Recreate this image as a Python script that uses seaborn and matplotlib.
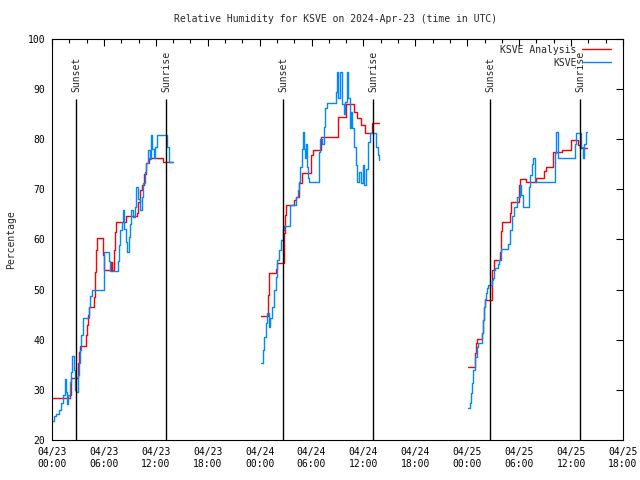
import pandas as pd
import matplotlib
matplotlib.use("Agg")
import matplotlib.pyplot as plt
import matplotlib.dates as mdates
from matplotlib.lines import Line2D
import seaborn as sns

# hours after 2024-04-23 00:00 UTC
red1_h = [0.0, 2.05, 2.15, 2.25, 3.0, 3.05, 3.15, 3.25, 3.95, 4.05, 4.15, 4.25, 4.8, 4.9, 5.0, 5.1,
          5.2, 5.95, 6.05, 6.8, 6.95, 7.15, 7.3, 7.4, 8.6, 9.8, 9.9, 10.15, 10.45, 10.6, 10.9, 11.2,
          12.85, 13.95]
red1_v = [28.3, 29.0, 31.3, 32.3, 33.3, 35.3, 37.6, 38.8, 40.9, 42.9, 44.9, 46.6, 47.9, 48.6, 53.6, 57.9,
          60.2, 56.9, 53.9, 55.6, 53.9, 58.0, 61.5, 63.5, 64.7, 65.3, 67.5, 69.9, 70.9, 73.0, 75.3, 76.3,
          75.5, 75.5]

blue1_h = [0.0, 0.2, 0.45, 0.8, 1.05, 1.3, 1.45, 1.6, 1.75, 1.9, 2.05, 2.2, 2.35, 2.5, 2.65, 2.8,
           2.95, 3.1, 3.25, 3.4, 3.55, 4.3, 4.45, 4.6, 6.0, 6.55, 6.75, 7.6, 7.75, 7.9, 8.05, 8.2,
           8.35, 8.5, 8.7, 8.85, 9.0, 9.15, 9.35, 9.65, 9.75, 9.95, 10.15, 10.4, 10.55, 10.75, 10.9,
           11.1, 11.3, 11.45, 11.6, 11.75, 11.95, 12.1, 13.35, 13.5, 13.95]
blue1_v = [23.8, 24.8, 25.2, 26.0, 27.4, 29.0, 32.2, 29.5, 27.2, 29.0, 31.5, 33.5, 36.8, 34.0, 30.0, 29.6,
           33.0, 35.3, 38.0, 41.0, 44.3, 46.6, 48.7, 50.0, 57.6, 55.8, 53.8, 55.8, 59.0, 61.8, 63.5, 65.8,
           62.0, 59.5, 57.6, 60.5, 63.0, 65.8, 64.5, 66.5, 70.5, 68.0, 65.9, 68.5, 71.3, 73.5, 75.3,
           77.9, 76.0, 80.9, 78.0, 76.3, 78.5, 80.9, 78.5, 75.5, 75.5]

red2_h = [24.15, 24.95, 25.1, 25.85, 26.05, 26.85, 26.95, 27.1, 27.95, 28.2, 28.5, 28.9, 29.95, 30.15,
          31.1, 33.1, 34.0, 34.9, 35.2, 35.75, 36.2, 37.0, 37.8]
red2_v = [44.7, 48.9, 53.3, 54.2, 55.3, 61.2, 64.9, 66.9, 67.9, 68.5, 71.2, 73.2, 76.9, 77.9,
          80.5, 84.5, 87.0, 85.5, 84.3, 82.8, 81.2, 83.2, 83.2]

blue2_h = [24.15, 24.35, 24.55, 24.75, 24.9, 25.05, 25.25, 25.45, 25.65, 25.85, 26.05, 26.25, 26.45,
           26.65, 26.85, 27.5, 28.2, 28.4, 28.55, 28.7, 28.85, 29.0, 29.15, 29.25, 29.35, 29.45, 29.55,
           29.7, 30.85, 31.0, 31.2, 31.4, 31.6, 31.75, 32.8, 32.95, 33.1, 33.3, 33.5, 33.7, 33.9, 34.05,
           34.25, 34.4, 34.55, 34.7, 34.9, 35.1, 35.3, 35.5, 35.7, 35.9, 36.05, 36.3, 36.5, 36.7, 37.35,
           37.5, 37.65, 37.8]
blue2_v = [35.3, 38.0, 40.6, 43.3, 45.3, 42.6, 44.3, 46.6, 49.9, 52.6, 55.9, 57.9, 59.9,
           61.9, 62.7, 66.9, 68.5, 69.9, 71.5, 74.5, 78.0, 81.5, 78.0, 76.3, 79.0, 74.5, 72.3,
           71.5, 77.5, 80.0, 79.0, 82.5, 86.2, 87.2, 89.5, 93.5, 88.2, 93.5, 87.0, 85.0, 87.5, 93.5,
           88.2, 82.2, 85.5, 82.2, 78.5, 74.9, 71.5, 73.5, 71.2, 74.9, 70.8, 74.0, 79.5, 81.2, 81.2,
           78.5, 76.9, 75.9]

red3_h = [48.1, 48.85, 48.95, 49.05, 49.15, 49.75, 49.85, 49.95, 50.05, 50.9, 51.05, 51.75, 51.95,
          52.05, 52.9, 53.05, 53.95, 54.15, 54.8, 56.0, 56.9, 57.15, 57.95, 58.9, 59.95, 60.8, 61.05,
          61.8]
red3_v = [34.5, 35.3, 37.3, 39.3, 40.1, 41.3, 43.9, 46.6, 48.0, 53.9, 55.9, 57.6, 61.6,
          63.4, 65.2, 67.4, 70.9, 72.0, 71.5, 72.2, 73.7, 74.5, 77.5, 77.9, 79.9, 78.9, 78.2,
          78.2]

blue3_h = [48.1, 48.3, 48.45, 48.55, 48.65, 48.85, 48.95, 49.1, 49.25, 49.75, 49.85, 49.95, 50.05,
           50.15, 50.3, 50.45, 50.9, 51.0, 51.1, 51.2, 51.55, 51.7, 51.85, 52.75, 52.95, 53.2, 53.4,
           53.75, 54.05, 54.2, 54.4, 55.1, 55.3, 55.5, 55.65, 55.8, 58.1, 58.3, 58.5, 60.45, 60.6,
           61.2, 61.35, 61.5, 61.7, 61.8]
blue3_v = [26.3, 27.3, 29.3, 31.3, 34.0, 35.3, 36.6, 38.6, 39.3, 41.3, 44.0, 46.6, 48.2,
           49.3, 50.3, 51.0, 51.9, 52.3, 53.9, 54.3, 55.2, 55.9, 58.1, 59.2, 61.9, 64.6, 66.5,
           68.5, 70.9, 68.9, 66.5, 70.5, 72.9, 75.0, 76.2, 71.5, 77.2, 81.5, 76.2, 79.0, 81.2,
           78.5, 76.2, 79.0, 81.5, 81.5]

sun_h = [2.77, 13.21, 26.73, 37.15, 50.66, 61.03]
sun_labels = ["Sunset", "Sunrise", "Sunset", "Sunrise", "Sunset", "Sunrise"]

start = pd.Timestamp("2024-04-23 00:00")

rows = []
for name, day, hs, vs in [("KSVE Analysis", 1, red1_h, red1_v), ("KSVE", 1, blue1_h, blue1_v),
                          ("KSVE Analysis", 2, red2_h, red2_v), ("KSVE", 2, blue2_h, blue2_v),
                          ("KSVE Analysis", 3, red3_h, red3_v), ("KSVE", 3, blue3_h, blue3_v)]:
    for h, v in zip(hs, vs):
        rows.append({"series": name, "day": day, "hour": h, "value": v})
df = pd.DataFrame(rows)
df["time"] = start + pd.to_timedelta(df["hour"], unit="h")

sns.set_style("white")
plt.rcParams["font.family"] = ["DejaVu Sans Mono"]
plt.rcParams["font.size"] = 7

colors = {"KSVE Analysis": "#ff0000", "KSVE": "#0088ff"}

fig = plt.figure(figsize=(6.4, 4.8), dpi=100)
ax = fig.add_axes([52 / 640, 40 / 480, 571 / 640, 401 / 480])

sns.lineplot(data=df, x="time", y="value", hue="series", units="day", estimator=None,
             hue_order=["KSVE Analysis", "KSVE"], palette=colors, drawstyle="steps-post",
             lw=1.0, legend=False, ax=ax)

# sunset / sunrise markers
for h, lab in zip(sun_h, sun_labels):
    t = start + pd.Timedelta(hours=h)
    ax.vlines(t, 20, 88, color="black", lw=1.0)
    ax.text(t, 89.4, lab, rotation=90, ha="center", va="bottom", fontsize=7)

ax.set_xlim(start, start + pd.Timedelta(hours=66))
ax.set_ylim(20, 100)
ax.set_yticks(range(20, 101, 10))
ax.xaxis.set_major_locator(mdates.HourLocator(byhour=[0, 6, 12, 18]))
ax.xaxis.set_minor_locator(mdates.HourLocator(byhour=range(0, 24, 2)))
ax.xaxis.set_major_formatter(mdates.DateFormatter("%m/%d\n%H:%M"))
ax.tick_params(which="both", direction="in", top=True, right=True, colors="black", labelsize=7)
ax.tick_params(which="major", length=5, width=0.8, pad=5)
ax.tick_params(which="minor", length=3, width=0.8)
for s in ax.spines.values():
    s.set_color("black")
    s.set_linewidth(0.8)

ax.set_xlabel("")
ax.set_ylabel("Percentage", fontsize=7, labelpad=8)
fig.text(0.525, 1 - 19 / 480, "Relative Humidity for KSVE on 2024-Apr-23 (time in UTC)",
         ha="center", va="center", fontsize=7)

handles = [Line2D([], [], color=colors["KSVE Analysis"], lw=1.0),
           Line2D([], [], color=colors["KSVE"], lw=1.0)]
ax.legend(handles, ["KSVE Analysis", "KSVE"], loc="upper right", frameon=False, markerfirst=False,
          handlelength=3.0, handletextpad=0.6, labelspacing=0.3, borderaxespad=0.2,
          bbox_to_anchor=(0.99, 1.0), fontsize=7)

fig.savefig("out.png", dpi=100)
